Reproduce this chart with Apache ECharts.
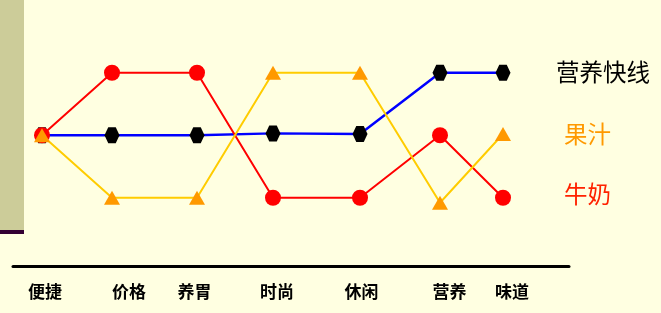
<!DOCTYPE html>
<html>
<head>
<meta charset="utf-8">
<script src="https://cdn.jsdelivr.net/npm/echarts@6/dist/echarts.min.js"></script>
<style>
  html, body { margin: 0; padding: 0; background: #FFFFE1; }
  #chart { width: 661px; height: 313px; }
</style>
</head>
<body>
<div id="chart"></div>
<script>
// Attributes compared across three drinks, placed along the horizontal scale
const categories = ['便捷', '价格', '养胃', '时尚', '休闲', '营养', '味道'];
// Horizontal placement of each attribute's points
const pointPos = [29, 99, 184, 260, 347, 427, 490];
// Horizontal placement of each attribute's caption
const labelPos = [32, 116, 181.5, 264, 348.5, 436.5, 499];

// Ranking of each drink on each attribute (3 = best)
const milk = [2, 3, 3, 1, 1, 2, 1];
const juice = [2, 1, 1, 3, 3, 0.92, 2.02];
const kuaixian = [2, 2, 2, 2.03, 2.02, 3, 3];

const seriesNames = ['营养快线', '果汁', '牛奶'];

const pair = vals => pointPos.map((x, i) => [x, vals[i]]);
const captionFor = v => {
  const i = labelPos.indexOf(v);
  return i >= 0 ? categories[i] : '';
};

const hexagon = 'path://M-1,0 L-0.5,-0.866 L0.5,-0.866 L1,0 L0.5,0.866 L-0.5,0.866 Z';

const chart = echarts.init(document.getElementById('chart'));
chart.setOption({
  backgroundColor: '#FFFFE1',
  animation: false,
  grid: { left: 13, right: 92, top: 10.25, bottom: 46.5 },
  xAxis: {
    type: 'value',
    min: 0,
    max: 556,
    splitLine: { show: false },
    axisTick: { show: false },
    axisLine: { show: true, onZero: false, lineStyle: { color: '#000', width: 3 } },
    axisLabel: {
      customValues: labelPos,
      formatter: captionFor,
      color: '#000',
      fontSize: 17,
      fontWeight: 'bold',
      fontFamily: 'Noto Sans CJK SC',
      margin: 17
    }
  },
  yAxis: {
    type: 'value',
    min: -0.1,
    max: 4,
    show: false
  },
  graphic: [
    { type: 'rect', left: 0, top: 0, shape: { width: 24, height: 230 }, style: { fill: '#CCCC99' } },
    { type: 'rect', left: 0, top: 230, shape: { width: 24, height: 4 }, style: { fill: '#330033' } },
    { type: 'text', left: 556, top: 60, style: { text: seriesNames[0], fill: '#000', font: '23.5px "Noto Sans CJK SC"' } },
    { type: 'text', left: 564, top: 122, style: { text: seriesNames[1], fill: '#FF9900', font: '23.5px "Noto Sans CJK SC"' } },
    { type: 'text', left: 564, top: 182, style: { text: seriesNames[2], fill: '#FF2200', font: '23.5px "Noto Sans CJK SC"' } }
  ],
  series: [
    {
      name: seriesNames[0],
      type: 'line',
      z: 2,
      data: pair(kuaixian),
      symbol: hexagon,
      symbolSize: [15, 16],
      lineStyle: { color: '#0000FF', width: 2.5 },
      itemStyle: { color: '#000' }
    },
    {
      name: seriesNames[2],
      type: 'line',
      z: 3,
      data: pair(milk),
      symbol: 'circle',
      symbolSize: 16,
      lineStyle: { color: '#FF0000', width: 2 },
      itemStyle: { color: '#FF0000' }
    },
    {
      name: seriesNames[1],
      type: 'line',
      z: 4,
      data: pair(juice),
      symbol: 'triangle',
      symbolSize: [16, 14],
      lineStyle: { color: '#FFCC00', width: 2 },
      itemStyle: { color: '#FF9900' }
    }
  ]
});
</script>
</body>
</html>
